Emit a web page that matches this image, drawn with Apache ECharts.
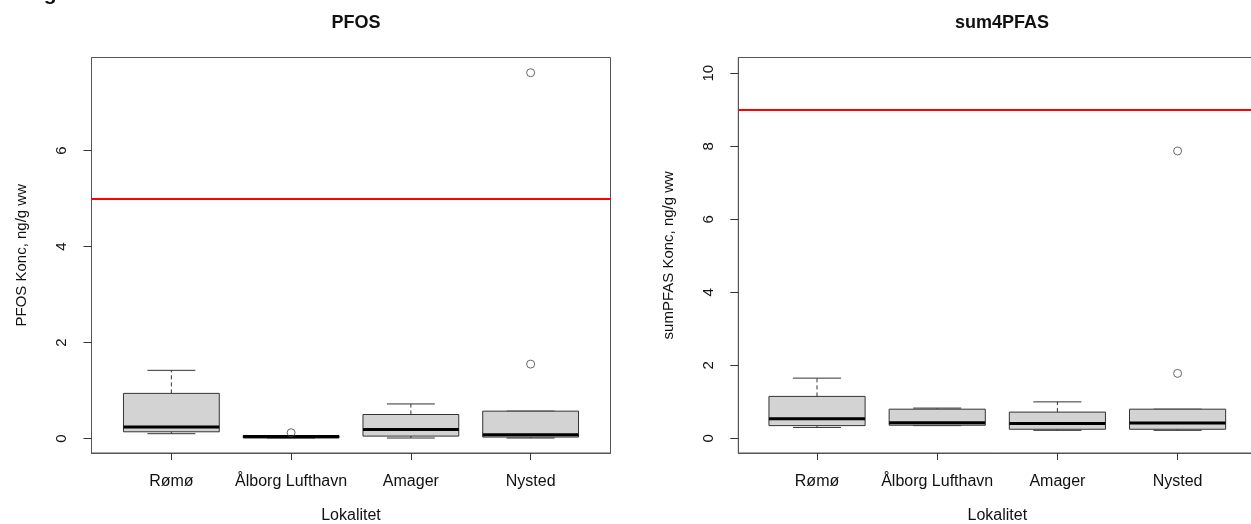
<!DOCTYPE html>
<html>
<head>
<meta charset="utf-8">
<script src="https://cdn.jsdelivr.net/npm/echarts@6/dist/echarts.min.js"></script>
<style>
html,body{margin:0;padding:0;background:#fff;}
#chart{width:1251px;height:524px;}
</style>
</head>
<body>
<div id="chart"></div>
<script>
// ---- data ----
const categories = ['Rømø', 'Ålborg Lufthavn', 'Amager', 'Nysted'];
// [min whisker, Q1, median, Q3, max whisker]
const pfosBoxes = [
  [0.10, 0.14, 0.24, 0.94, 1.42],
  [0.01, 0.01, 0.04, 0.06, 0.06],
  [0.01, 0.05, 0.19, 0.50, 0.72],
  [0.01, 0.03, 0.08, 0.57, 0.57]
];
const pfosOutliers = [[], [0.12], [], [1.55, 7.62]];
const sumBoxes = [
  [0.30, 0.35, 0.54, 1.15, 1.65],
  [0.35, 0.36, 0.43, 0.80, 0.83],
  [0.22, 0.25, 0.41, 0.72, 1.00],
  [0.22, 0.25, 0.42, 0.80, 0.80]
];
const sumOutliers = [[], [], [], [1.78, 7.87]];
const pfosTicks = [0, 2, 4, 6];
const sumTicks = [0, 2, 4, 6, 8, 10];
const categoryTicks = [1, 2, 3, 4];
const pfosLimit = 5;
const sumLimit = 9;

// ---- chart ----
const FONT = '"Liberation Sans", Arial, Helvetica, sans-serif';
const chart = echarts.init(document.getElementById('chart'), null, {renderer: 'canvas'});

function boxData(boxes) {
  return boxes.map((b, i) => [i + 1].concat(b));
}
function outlierData(outs) {
  const res = [];
  outs.forEach((arr, i) => arr.forEach(v => res.push([i + 1, v])));
  return res;
}
function renderBox(params, api) {
  const x = api.value(0);
  const mn = api.value(1), q1 = api.value(2), md = api.value(3), q3 = api.value(4), mx = api.value(5);
  const pMn = api.coord([x, mn]), pQ1 = api.coord([x, q1]), pMd = api.coord([x, md]),
        pQ3 = api.coord([x, q3]), pMx = api.coord([x, mx]);
  const cx = pMd[0];
  const half = api.size([0.8, 0])[0] / 2;
  const capHalf = half / 2;
  const stroke = '#333';
  const children = [
    {type: 'line', shape: {x1: cx, y1: pQ3[1], x2: cx, y2: pMx[1]}, style: {stroke: stroke, lineWidth: 1, lineDash: [4, 3]}},
    {type: 'line', shape: {x1: cx, y1: pQ1[1], x2: cx, y2: pMn[1]}, style: {stroke: stroke, lineWidth: 1, lineDash: [4, 3]}},
    {type: 'line', shape: {x1: cx - capHalf, y1: pMx[1], x2: cx + capHalf, y2: pMx[1]}, style: {stroke: stroke, lineWidth: 1}},
    {type: 'line', shape: {x1: cx - capHalf, y1: pMn[1], x2: cx + capHalf, y2: pMn[1]}, style: {stroke: stroke, lineWidth: 1}},
    {type: 'rect', shape: {x: cx - half, y: pQ3[1], width: 2 * half, height: pQ1[1] - pQ3[1]}, style: {fill: '#d3d3d3', stroke: stroke, lineWidth: 1}},
    {type: 'line', shape: {x1: cx - half, y1: pMd[1], x2: cx + half, y2: pMd[1]}, style: {stroke: '#000', lineWidth: 3}}
  ];
  return {type: 'group', children: children};
}

function makeXAxis(gridIndex, min, max) {
  return {
    type: 'value', gridIndex: gridIndex, min: min, max: max,
    splitLine: {show: false},
    axisLine: {show: true, onZero: false, lineStyle: {color: '#555', width: 1}},
    axisTick: {show: true, length: 7, customValues: categoryTicks, lineStyle: {color: '#333'}},
    axisLabel: {customValues: categoryTicks, margin: 21, color: '#111', fontSize: 16, fontFamily: FONT,
      formatter: v => categories[Math.round(v) - 1] || ''},
    name: 'Lokalitet', nameLocation: 'middle', nameGap: 55,
    nameTextStyle: {color: '#111', fontSize: 16, fontFamily: FONT}
  };
}
function makeYAxis(gridIndex, min, max, ticks, name) {
  return {
    type: 'value', gridIndex: gridIndex, min: min, max: max,
    splitLine: {show: false},
    axisLine: {show: true, onZero: false, lineStyle: {color: '#555', width: 1}},
    axisTick: {show: true, length: 8, customValues: ticks, lineStyle: {color: '#333'}},
    axisLabel: {customValues: ticks, rotate: 90, margin: 22, color: '#111', fontSize: 15, fontFamily: FONT},
    name: name, nameLocation: 'middle', nameRotate: 90, nameGap: 62,
    nameTextStyle: {color: '#111', fontSize: 15, fontFamily: FONT}
  };
}

const option = {
  animation: false,
  backgroundColor: '#fff',
  title: [
    {text: 'PFOS', left: 351, top: 9, textAlign: 'center',
      textStyle: {fontSize: 18, fontWeight: 'bold', color: '#111', fontFamily: FONT}},
    {text: 'sum4PFAS', left: 997, top: 9, textAlign: 'center',
      textStyle: {fontSize: 18, fontWeight: 'bold', color: '#111', fontFamily: FONT}}
  ],
  graphic: [
    {type: 'text', x: 10, y: -6, style: {text: 'Ringude', fontSize: 21, fontWeight: 'bold', fill: '#111',
      fontFamily: FONT, verticalAlign: 'middle', align: 'left'}}
  ],
  grid: [
    {left: 91.5, top: 57.5, width: 519, height: 395.5, containLabel: false, outerBoundsMode: 'none',
      show: true, borderColor: '#555', borderWidth: 1, backgroundColor: 'transparent'},
    {left: 738.3, top: 57.5, width: 518, height: 395.5, containLabel: false, outerBoundsMode: 'none',
      show: true, borderColor: '#555', borderWidth: 1, backgroundColor: 'transparent'}
  ],
  xAxis: [
    makeXAxis(0, 0.333, 4.667),
    makeXAxis(1, 0.345, 4.655)
  ],
  yAxis: [
    makeYAxis(0, -0.302, 7.937, pfosTicks, 'PFOS Konc, ng/g ww'),
    makeYAxis(1, -0.40, 10.43, sumTicks, 'sumPFAS Konc, ng/g ww')
  ],
  series: [
    {type: 'custom', xAxisIndex: 0, yAxisIndex: 0, renderItem: renderBox, data: boxData(pfosBoxes), silent: true,
      markLine: {silent: true, symbol: 'none', label: {show: false}, lineStyle: {color: '#ff0000', width: 2, type: 'solid'},
        data: [{yAxis: pfosLimit}]}},
    {type: 'scatter', xAxisIndex: 0, yAxisIndex: 0, data: outlierData(pfosOutliers), symbol: 'circle', symbolSize: 8,
      itemStyle: {color: 'rgba(0,0,0,0)', borderColor: '#444', borderWidth: 1}, silent: true},
    {type: 'custom', xAxisIndex: 1, yAxisIndex: 1, renderItem: renderBox, data: boxData(sumBoxes), silent: true,
      markLine: {silent: true, symbol: 'none', label: {show: false}, lineStyle: {color: '#ff0000', width: 2, type: 'solid'},
        data: [{yAxis: sumLimit}]}},
    {type: 'scatter', xAxisIndex: 1, yAxisIndex: 1, data: outlierData(sumOutliers), symbol: 'circle', symbolSize: 8,
      itemStyle: {color: 'rgba(0,0,0,0)', borderColor: '#444', borderWidth: 1}, silent: true}
  ]
};
chart.setOption(option);
</script>
</body>
</html>
